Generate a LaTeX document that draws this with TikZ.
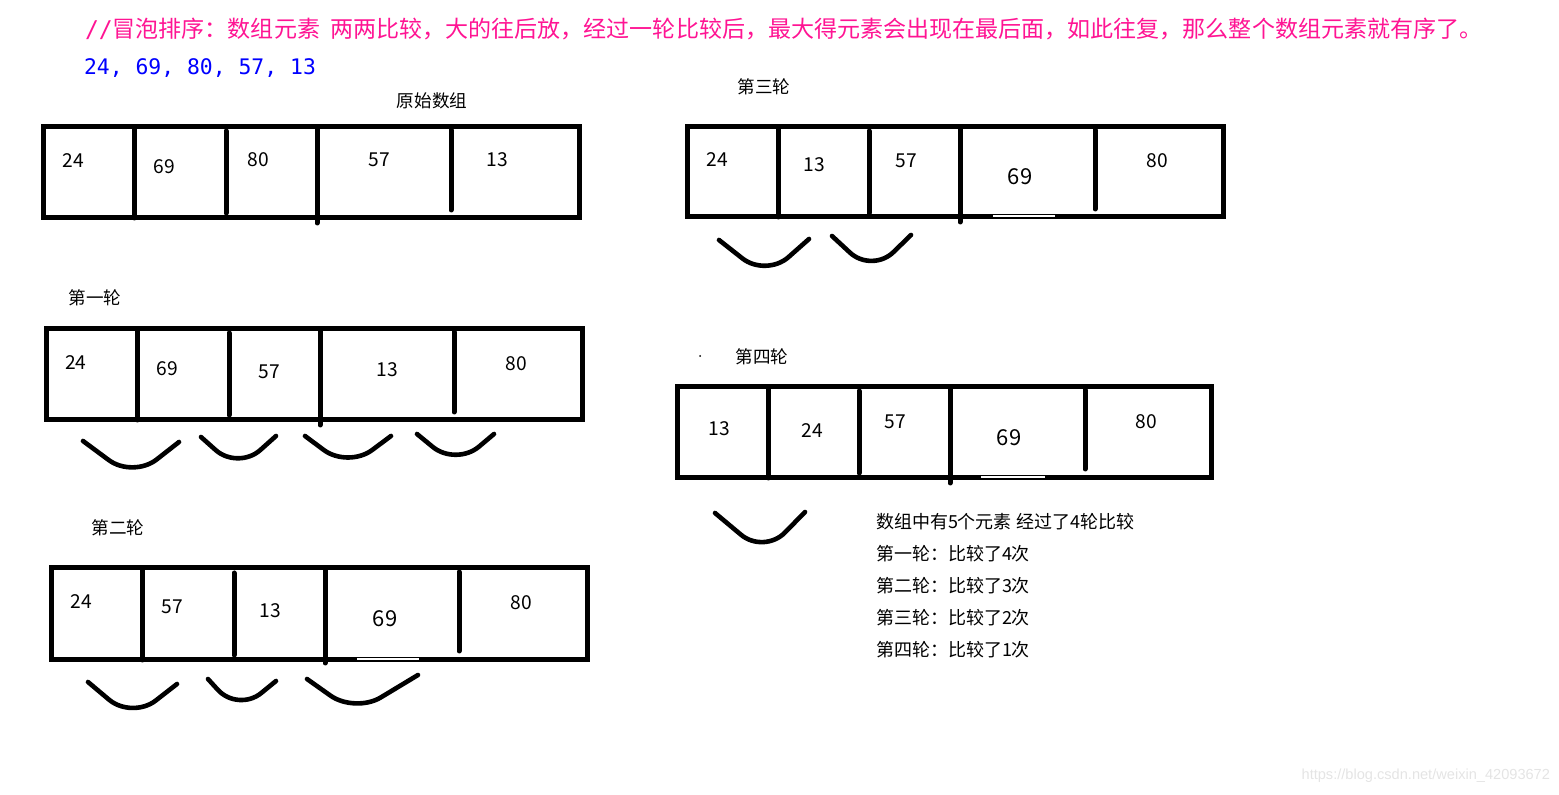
\documentclass[tikz,border=0pt]{standalone}
\usepackage{fontspec}
\setmainfont{Noto Sans CJK SC}
\newfontfamily\codefont{DejaVu Sans Mono}
\newfontfamily\markfont{Liberation Sans}
\usepackage{xcolor}
\usepackage{tikz}

\definecolor{titlepink}{RGB}{255,20,147}
\definecolor{codeblue}{RGB}{0,0,255}
\definecolor{markgray}{RGB}{228,228,228}

\begin{document}
\begin{tikzpicture}[x=0.5pt,y=-0.5pt,every node/.style={inner sep=0pt,outer sep=0pt}]
\tikzstyle{frame}=[line width=2.5pt]
\tikzstyle{bar}=[line width=2.5pt,line cap=round]
\tikzstyle{swing}=[line width=2.3pt,line cap=round,rounded corners=15pt]
\tikzstyle{num}=[font=\fontsize{9.6}{11}\selectfont]
\tikzstyle{bignum}=[font=\fontsize{11}{13}\selectfont]
\tikzstyle{roundlbl}=[font=\fontsize{8.8}{11}\selectfont]
\tikzstyle{note}=[anchor=west,font=\fontsize{9}{11}\selectfont]

\useasboundingbox (0,0) rectangle (1559,795);

% heading
\node (title) [anchor=west,text=titlepink,font=\fontsize{11.52}{14}\selectfont] at (85,29) {{\codefont //}冒泡排序：数组元素\ \ 两两比较，大的往后放，经过一轮比较后，最大得元素会出现在最后面，如此往复，那么整个数组元素就有序了。};
\node (data) [anchor=west,text=codeblue,font=\codefont\fontsize{10.7}{13}\selectfont] at (84,68) {24, 69, 80, 57, 13};

% original array
\node (lbl0) [roundlbl] at (432,101) {原始数组};
\begin{scope}[shift={(43,127)}]
\draw[frame] (0,0) rectangle (536,91);
\draw[bar] (91,0) -- (91,91);
\draw[bar] (183,4) -- (183,86);
\draw[bar] (274,0) -- (274,96);
\draw[bar] (408,3) -- (408,83);
\node (o1) [num] at (30,34) {24};
\node (o2) [num] at (121,40) {69};
\node (o3) [num] at (215,33) {80};
\node (o4) [num] at (336,33) {57};
\node (o5) [num] at (454,33) {13};
\end{scope}

% round 1
\node (lbl1) [roundlbl] at (95,298) {第一轮};
\begin{scope}[shift={(46,329)}]
\draw[frame] (0,0) rectangle (536,91);
\draw[bar] (91,0) -- (91,91);
\draw[bar] (183,4) -- (183,86);
\draw[bar] (274,0) -- (274,96);
\draw[bar] (408,3) -- (408,83);
\node (a1) [num] at (30,34) {24};
\node (a2) [num] at (121,40) {69};
\node (a3) [num] at (223,43) {57};
\node (a4) [num] at (341,41) {13};
\node (a5) [num] at (470,35) {80};
\end{scope}
\draw[swing] (83,441) -- (133,478) -- (179,442);
\draw[swing] (201,437) -- (238,470) -- (276,436);
\draw[swing] (305,436) -- (348,468) -- (391,436);
\draw[swing] (417,434) -- (456,466) -- (494,434);

% round 2
\node (lbl2) [roundlbl] at (118,528) {第二轮};
\begin{scope}[shift={(51,568)}]
\draw[frame] (0,0) rectangle (536,92);
\draw[bar] (91,0) -- (91,92);
\draw[bar] (183,5) -- (183,87);
\draw[bar] (274,0) -- (274,95);
\draw[bar] (408,4) -- (408,83);
\fill[white] (306,90.2) rectangle (368,92);
\node (b1) [num] at (30,34) {24};
\node (b2) [num] at (121,39) {57};
\node (b3) [num] at (219,43) {13};
\node (b4) [bignum] at (334,51) {69};
\node (b5) [num] at (470,35) {80};
\end{scope}
\draw[swing] (88,682) -- (132,719) -- (177,684);
\draw[swing] (208,679) -- (238,712) -- (276,681);
\draw[swing] (307,679) -- (355,713) -- (418,675);

% round 3
\node (lbl3) [roundlbl] at (764,87) {第三轮};
\begin{scope}[shift={(687,127)}]
\draw[frame] (0,0) rectangle (536,90);
\draw[bar] (91,0) -- (91,90);
\draw[bar] (182,4) -- (182,86);
\draw[bar] (273,0) -- (273,95);
\draw[bar] (408,3) -- (408,82);
\fill[white] (306,88.2) rectangle (368,90);
\node (c1) [num] at (30,33) {24};
\node (c2) [num] at (127,38) {13};
\node (c3) [num] at (219,34) {57};
\node (c4) [bignum] at (333,50) {69};
\node (c5) [num] at (470,34) {80};
\end{scope}
\draw[swing] (719,240) -- (766,277) -- (809,239);
\draw[swing] (832,236) -- (872,273) -- (911,235);

% round 4
\fill (700,356) circle (1);
\node (lbl4) [roundlbl] at (762,357) {第四轮};
\begin{scope}[shift={(677,387)}]
\draw[frame] (0,0) rectangle (534,91);
\draw[bar] (91,0) -- (91,91);
\draw[bar] (182,4) -- (182,86);
\draw[bar] (273,0) -- (273,96);
\draw[bar] (408,3) -- (408,82);
\fill[white] (304,89.2) rectangle (368,91);
\node (d1) [num] at (42,42) {13};
\node (d2) [num] at (135,44) {24};
\node (d3) [num] at (218,35) {57};
\node (d4) [bignum] at (332,51) {69};
\node (d5) [num] at (469,35) {80};
\end{scope}
\draw[swing] (715,513) -- (764,554) -- (805,512);

% summary
\node (sum0) [note] at (876,522) {数组中有5个元素 经过了4轮比较};
\node (sum1) [note] at (876,554) {第一轮：比较了4次};
\node (sum2) [note] at (876,586) {第二轮：比较了3次};
\node (sum3) [note] at (876,618) {第三轮：比较了2次};
\node (sum4) [note] at (876,650) {第四轮：比较了1次};

\node (wm) [anchor=east,text=markgray,font=\markfont\fontsize{7.3}{9}\selectfont] at (1550,776) {https://blog.csdn.net/weixin\_42093672};
\end{tikzpicture}
\end{document}
